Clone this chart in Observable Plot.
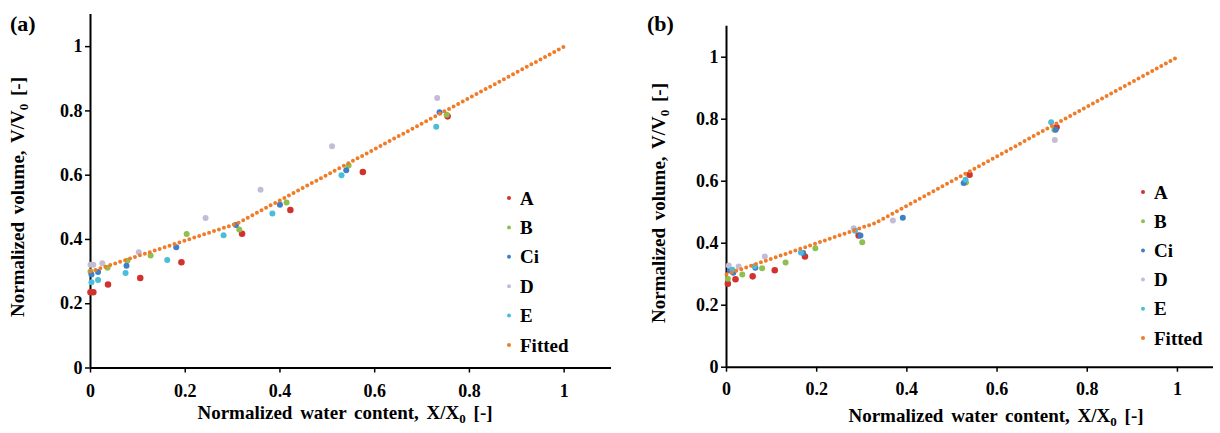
<!DOCTYPE html>
<html><head><meta charset="utf-8">
<script src="https://cdn.jsdelivr.net/npm/d3@7"></script>
<script src="https://cdn.jsdelivr.net/npm/@observablehq/plot@0.6"></script>
<style>
body{margin:0;background:#fff}
#wrap{position:relative;width:1220px;height:433px;overflow:hidden}
.panel{position:absolute;top:0}
</style>
</head><body><div id="wrap"></div>
<script>
// ---- series names and colours ----
const seriesNames = ["A", "B", "Ci", "D", "E"];
const seriesColors = ["#d2322d", "#8fbf4f", "#3f7fc8", "#c4bcd6", "#4bbcd9"];
const fittedName = "Fitted";
const fittedColor = "#f07c28";
const tickValues = [0, 0.2, 0.4, 0.6, 0.8, 1];

// ---- panel (a) data ----
const a_A_x = [0, 0.006, 0.037, 0.105, 0.192, 0.32, 0.422, 0.575, 0.754];
const a_A_y = [0.236, 0.236, 0.26, 0.28, 0.329, 0.418, 0.492, 0.61, 0.783];
const a_B_x = [0, 0.036, 0.078, 0.127, 0.203, 0.314, 0.414, 0.545, 0.752];
const a_B_y = [0.30, 0.312, 0.334, 0.35, 0.417, 0.431, 0.515, 0.63, 0.788];
const a_Ci_x = [0.002, 0.016, 0.076, 0.181, 0.307, 0.40, 0.54, 0.737];
const a_Ci_y = [0.291, 0.299, 0.318, 0.376, 0.445, 0.508, 0.615, 0.796];
const a_D_x = [0.0, 0.006, 0.025, 0.102, 0.243, 0.359, 0.51, 0.732];
const a_D_y = [0.321, 0.321, 0.326, 0.36, 0.467, 0.555, 0.69, 0.84];
const a_E_x = [0.002, 0.016, 0.074, 0.162, 0.281, 0.384, 0.53, 0.73];
const a_E_y = [0.267, 0.274, 0.296, 0.336, 0.413, 0.481, 0.60, 0.751];
const a_fit_x = [0, 0.31, 1];
const a_fit_y = [0.30, 0.45, 1.0];

// ---- panel (b) data ----
const b_A_x = [0.003, 0.02, 0.058, 0.107, 0.174, 0.293, 0.539, 0.732];
const b_A_y = [0.269, 0.284, 0.293, 0.313, 0.357, 0.425, 0.621, 0.774];
const b_B_x = [0.003, 0.035, 0.079, 0.131, 0.197, 0.301, 0.531, 0.727];
const b_B_y = [0.285, 0.299, 0.319, 0.338, 0.384, 0.403, 0.596, 0.766];
const b_Ci_x = [0.007, 0.015, 0.064, 0.17, 0.297, 0.391, 0.526, 0.73];
const b_Ci_y = [0.312, 0.305, 0.321, 0.368, 0.425, 0.482, 0.594, 0.766];
const b_D_x = [0.005, 0.027, 0.085, 0.282, 0.369, 0.728];
const b_D_y = [0.328, 0.325, 0.357, 0.448, 0.473, 0.733];
const b_E_x = [0.013, 0.062, 0.165, 0.285, 0.53, 0.72];
const b_E_y = [0.314, 0.326, 0.37, 0.44, 0.605, 0.79];
const b_fit_x = [0, 0.33, 1];
const b_fit_y = [0.30, 0.465, 1.0];

const FONT = "'Liberation Serif','Times New Roman',Times,serif";

function rows(xsList, ysList) {
  const out = [];
  xsList.forEach((xs, i) => xs.forEach((x, j) => out.push({s: seriesNames[i], c: seriesColors[i], x, y: ysList[i][j], r: i === 0 ? 2.6 : 2.2})));
  return out;
}

function addTitle(svg, x, y, rotate, main) {
  const t = svg.append("text")
    .attr("transform", `translate(${x},${y})` + (rotate ? " rotate(-90)" : ""))
    .attr("text-anchor", "middle")
    .attr("font-family", FONT).attr("font-weight", "bold").attr("font-size", 19)
    .attr("word-spacing", 3).attr("fill", "#000");
  t.append("tspan").text(main);
  t.append("tspan").attr("font-size", 13).attr("dy", 4).text("0");
  t.append("tspan").attr("dy", -4).text(" [-]");
}

function makePanel(cfg) {
  const data = rows(cfg.xs, cfg.ys);
  const fit = cfg.fx.map((x, i) => ({x, y: cfg.fy[i]}));
  const plot = Plot.plot({
    width: cfg.width, height: 433,
    marginLeft: cfg.ml, marginRight: cfg.mr, marginTop: cfg.mt, marginBottom: cfg.mb,
    x: {domain: [0, cfg.xmax]},
    y: {domain: [0, 1.1]},
    style: {fontFamily: FONT, fontWeight: "bold", fontSize: "18px", color: "#000", background: "transparent", overflow: "visible"},
    marks: [
      Plot.axisX({ticks: tickValues, tickFormat: d => String(d), tickSize: 5, tickPadding: cfg.xpad, label: null, fontSize: 18, fontWeight: "bold", strokeWidth: 1.5}),
      Plot.axisY({ticks: tickValues, tickFormat: d => String(d), tickSize: 5, tickPadding: 3, label: null, fontSize: 18, fontWeight: "bold", strokeWidth: 1.5}),
      Plot.ruleY([0], {stroke: "#000", strokeWidth: 2}),
      Plot.ruleX([0], {stroke: "#000", strokeWidth: 2}),
      Plot.dot(data, {x: "x", y: "y", fill: "c", r: "r", stroke: "none"}),
      Plot.line(fit, {x: "x", y: "y", stroke: fittedColor, strokeWidth: 4, strokeDasharray: "0,5.2", strokeLinecap: "round"})
    ]
  });
  const svg = d3.select(plot);
  // panel label
  svg.append("text").attr("x", cfg.labX).attr("y", cfg.labY).attr("text-anchor", "start")
    .attr("font-family", FONT).attr("font-weight", "bold").attr("font-size", 22).attr("fill", "#000").text(cfg.label);
  // axis titles
  addTitle(svg, cfg.ytX, cfg.ytY, true, "Normalized volume, V/V");
  addTitle(svg, cfg.xtX, cfg.xtY, false, "Normalized water content, X/X");
  // legend
  const names = seriesNames.concat([fittedName]);
  const cols = seriesColors.concat([fittedColor]);
  names.forEach((n, i) => {
    const y = cfg.legY0 + i * cfg.legDy;
    svg.append("circle").attr("cx", cfg.legX).attr("cy", y).attr("r", 2).attr("fill", cols[i]);
    svg.append("text").attr("x", cfg.legX + 11).attr("y", y).attr("dy", "0.35em").attr("text-anchor", "start")
      .attr("font-family", FONT).attr("font-weight", "bold").attr("font-size", 19).attr("fill", "#000").text(n);
  });
  const div = document.createElement("div");
  div.className = "panel";
  div.style.left = cfg.left + "px";
  div.appendChild(plot);
  document.getElementById("wrap").appendChild(div);
}

makePanel({
  left: 0, width: 615, ml: 90, mr: 4, mt: 14, mb: 65.5, xmax: 1.1, xpad: 11,
  xs: [a_A_x, a_B_x, a_Ci_x, a_D_x, a_E_x], ys: [a_A_y, a_B_y, a_Ci_y, a_D_y, a_E_y],
  fx: a_fit_x, fy: a_fit_y,
  label: "(a)", labX: 10, labY: 31,
  ytX: 24, ytY: 197, xtX: 345, xtY: 419,
  legX: 509, legY0: 198, legDy: 29.4
});
makePanel({
  left: 610, width: 610, ml: 116, mr: 7, mt: 25.7, mb: 66.3, xmax: 1.08, xpad: 10,
  xs: [b_A_x, b_B_x, b_Ci_x, b_D_x, b_E_x], ys: [b_A_y, b_B_y, b_Ci_y, b_D_y, b_E_y],
  fx: b_fit_x, fy: b_fit_y,
  label: "(b)", labX: 37, labY: 31,
  ytX: 55, ytY: 203, xtX: 386, xtY: 422,
  legX: 533, legY0: 192, legDy: 29.2
});
</script>
</body></html>
